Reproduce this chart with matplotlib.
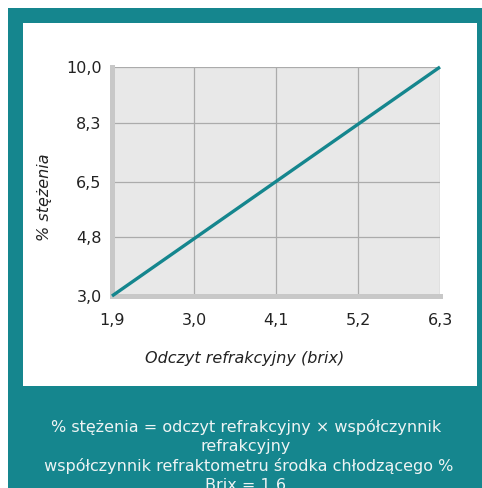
import matplotlib
matplotlib.use("Agg")
import matplotlib.pyplot as plt
from matplotlib.patches import Rectangle

plt.rcParams["font.family"] = ["DejaVu Sans"]

# data
brix = [1.9, 6.3]
stezenie = [3.0, 10.0]
x_ticks = [1.9, 3.0, 4.1, 5.2, 6.3]
y_ticks = [3.0, 4.8, 6.5, 8.3, 10.0]
x_tick_labels = ["1,9", "3,0", "4,1", "5,2", "6,3"]
y_tick_labels = ["3,0", "4,8", "6,5", "8,3", "10,0"]
footer_lines = [
    "% stężenia = odczyt refrakcyjny × współczynnik",
    "refrakcyjny",
    " współczynnik refraktometru środka chłodzącego %",
    "Brix = 1,6",
]

teal = "#15868e"
W, H = 482, 488

fig = plt.figure(figsize=(W / 100, H / 100), dpi=100)
fig.patch.set_facecolor("white")

# teal frame and white panel
fig.patches.append(Rectangle((8 / W, 0), 1 - 8 / W, 1 - 8 / H,
                             transform=fig.transFigure, facecolor=teal,
                             edgecolor="none", zorder=-10))
fig.patches.append(Rectangle((23 / W, 1 - 386 / H), (477 - 23) / W, (386 - 23) / H,
                             transform=fig.transFigure, facecolor="white",
                             edgecolor="none", zorder=-9))

ax = fig.add_axes([112 / W, 1 - 296 / H, (440 - 112) / W, (296 - 67) / H])
ax.set_facecolor("#e8e8e8")
ax.plot(brix, stezenie, color=teal, lw=2.4, solid_capstyle="butt",
        clip_on=False, zorder=5)

ax.set_xlim(1.9, 6.3)
ax.set_ylim(3.0, 10.0)
ax.set_xticks(x_ticks)
ax.set_xticklabels(x_tick_labels)
ax.set_yticks(y_ticks)
ax.set_yticklabels(y_tick_labels)
ax.tick_params(length=0, labelsize=11.5, colors="#222222")
ax.tick_params(axis="x", pad=12.5)
ax.tick_params(axis="y", pad=7.5)
ax.grid(True, color="#ababab", lw=0.9)
ax.set_axisbelow(True)

for s in ["top", "right"]:
    ax.spines[s].set_visible(False)
for s in ["left", "bottom"]:
    ax.spines[s].set_color("#c8c8c8")
    ax.spines[s].set_linewidth(3.6)

fig.text(245 / W, 1 - 358 / H, "Odczyt refrakcyjny (brix)", fontsize=11.5,
         style="italic", color="#222222", ha="center", va="center")
fig.text(44 / W, 1 - 197 / H, "% stężenia", fontsize=11.5, style="italic",
         color="#222222", ha="center", va="center", rotation=90)

for i, line in enumerate(footer_lines):
    fig.text(246 / W, 1 - (427 + i * 19.5) / H, line, ha="center", va="center",
             color="#eef4f4", fontsize=11.5)

fig.savefig("out.png", dpi=100, facecolor=fig.get_facecolor())
